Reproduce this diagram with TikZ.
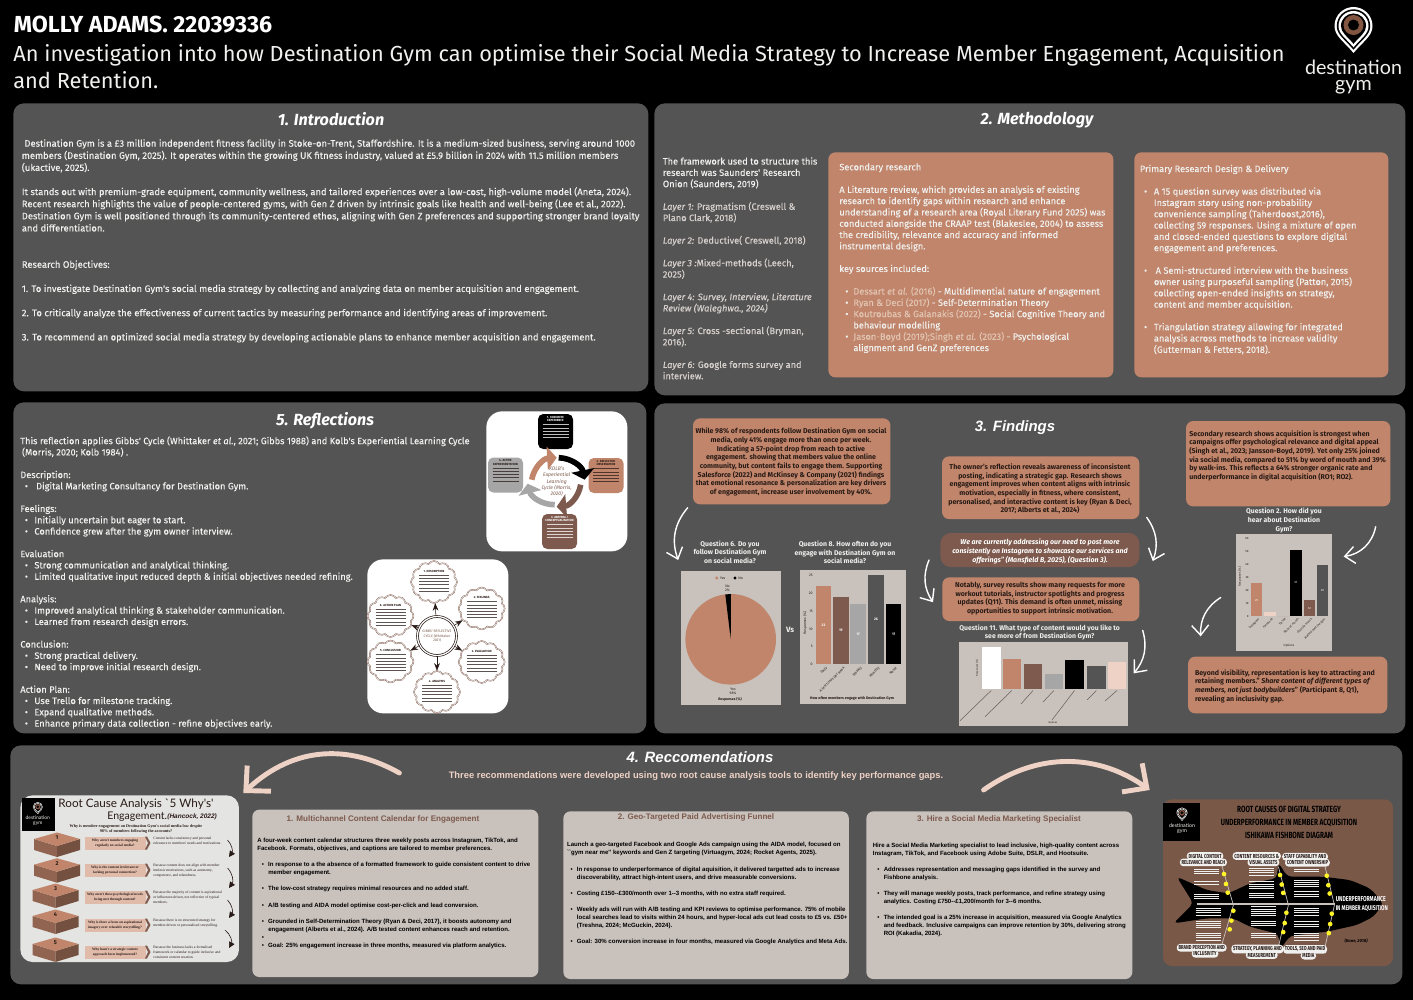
\documentclass[tikz,border=0pt]{standalone}
\usepackage{fontspec}
\setmainfont{Fira Sans}
\newfontfamily\arialfont{Liberation Sans}
\newfontfamily\logofont{Lato}
\newfontfamily\tinyserif{Liberation Serif}
\newfontfamily\midface{Fira Sans}[FakeBold=0.2]
\usetikzlibrary{arrows.meta, positioning, shapes.symbols}

\def\pxu{0.2mm}
\def\bw{5pt}
\newcommand{\bul}{\makebox[\bw][l]{\textbullet}}
\newcommand{\ind}{\makebox[\bw][l]{}}
\newcommand{\pinshape}{(0,27) .. controls (-10,15) and (-19,10) .. (-19,0) .. controls (-19,-11) and (-10,-19) .. (0,-19) .. controls (10,-19) and (19,-11) .. (19,0) .. controls (19,10) and (10,15) .. (0,27) -- cycle}
% thin strokes for print too small to read
\newcommand{\greeklines}[6]{\foreach \k in {1,...,#4} {\draw[line width=0.2pt, #6] ({#1-#3},{#2+(\k-1)*#5}) -- ({#1+#3},{#2+(\k-1)*#5});}}

\tikzset{
    gympin/.pic={
        \foreach \r/\col in {1/white, 0.88/black, 0.79/white, 0.66/black} {
            \fill[\col, scale=\r] \pinshape;
        }
        \fill[logobrown] (0,-1) circle (10);
        \fill[black] (0,-1) circle (5.5);
    },
    panel/.style={fill=panelgrey, rounded corners=6pt, inner sep=0pt, anchor=north west},
    brownbox/.style={fill=boxtan, rounded corners=4pt, inner sep=0pt, anchor=north west},
    recbox/.style={fill=recgrey, rounded corners=4pt, inner sep=0pt, anchor=north west},
    whitebox/.style={fill=white, rounded corners=9pt, inner sep=0pt, anchor=north west},
    chartbox/.style={fill=recgrey, inner sep=0pt, anchor=north west},
    sectitle/.style={text=white, font=\fontsize{9.2}{11}\selectfont\bfseries\itshape},
    arialtitle/.style={text=white, font=\arialfont\fontsize{8.5}{11}\selectfont\bfseries\itshape},
    bodytext/.style={text=bodywhite, align=left, anchor=north west, inner sep=0pt, font=\midface\fontsize{5.35}{6.89}\selectfont},
    methodtext/.style={text=bodywhite, align=left, anchor=north west, inner sep=0pt, font=\midface\fontsize{5.25}{6.43}\selectfont},
    findtext/.style={text=darkink, align=center, inner sep=0pt, font=\fontsize{4}{4.95}\selectfont\bfseries},
    charttitle/.style={text=bodywhite, align=center, inner sep=0pt, font=\fontsize{3.9}{4.95}\selectfont\bfseries},
    rectext/.style={text=black, align=left, anchor=north west, inner sep=0pt, font=\arialfont\fontsize{3.45}{4.6}\selectfont\bfseries},
    rectitle/.style={text=boxbrown, inner sep=0pt, font=\arialfont\fontsize{4.6}{6}\selectfont\bfseries},
    ticklabel/.style={text=darkink, inner sep=0pt, font=\fontsize{2}{2.4}\selectfont},
    valuelabel/.style={text=white, inner sep=0pt, font=\fontsize{2}{2.4}\selectfont\bfseries},
    handarrow/.style={draw=white, line width=0.8pt, line cap=round, -{Straight Barb[length=2mm, width=3.4mm]}},
    bigarrow/.style={draw=palepink, line width=2.8pt, line cap=round, -{Straight Barb[length=3.6mm, width=7mm]}},
    kolbbox/.style={rounded corners=3pt, inner sep=0pt, minimum width=35*\pxu, minimum height=35*\pxu},
    kolbarrow/.style={line width=3.2pt, -{Triangle[length=1.9mm, width=4.6mm]}},
    kolbhead/.style={inner sep=0pt, font=\fontsize{1.7}{2}\selectfont\bfseries, align=center},
    gibbscloud/.style={cloud, cloud puffs=12, cloud puff arc=115, cloud ignores aspect, draw=boxbrown, double=white, double distance=0.25pt, line width=0.25pt, inner sep=0pt, minimum width=46*\pxu, minimum height=42*\pxu},
    whyarrow/.style={draw=darkink, line width=0.35pt, -{Triangle[length=1.2mm, width=1.2mm]}},
    whytext/.style={text=darkink, inner sep=0pt, align=left, anchor=north west, font=\tinyserif\fontsize{2.1}{2.75}\selectfont},
    fishpill/.style={fill=bodywhite, rounded corners=2pt, inner sep=1pt, text=darkink, font=\fontsize{3.3}{3.6}\selectfont\bfseries},
}

\begin{document}
\begin{tikzpicture}[x=0.2mm, y=-0.2mm, >=Stealth]
    % Define local colors
    \definecolor{panelgrey}{RGB}{84, 84, 84} \definecolor{boxtan}{RGB}{192, 133, 106} \definecolor{boxbrown}{RGB}{125, 90, 77}
    \definecolor{recgrey}{RGB}{200, 193, 188} \definecolor{palepink}{RGB}{238, 210, 197} \definecolor{midgrey}{RGB}{166, 166, 166}
    \definecolor{bodywhite}{RGB}{240, 240, 238} \definecolor{darkink}{RGB}{40, 26, 22} \definecolor{refpale}{RGB}{226, 196, 178}
    \definecolor{dimwhite}{RGB}{214, 208, 204} \definecolor{logobrown}{RGB}{130, 85, 65} \definecolor{fishbrown}{RGB}{122, 88, 72}

    \fill[black] (0,0) rectangle (1413,1000);
    \useasboundingbox (0,0) rectangle (1413,1000);

    % HEADER
    \node[anchor=base west, inner sep=0pt, text=white, font=\fontsize{13.2}{15}\selectfont\bfseries] (author) at (13.5,32) {MOLLY ADAMS. 22039336};
    \node[anchor=north west, inner sep=0pt, align=left, text=bodywhite, font=\fontsize{12.4}{15.4}\selectfont] (maintitle) at (13,44) {An investigation into how Destination Gym can optimise their Social Media Strategy to Increase Member Engagement, Acquisition\\and Retention.};
    \pic at (1353.5,26) {gympin};
    \node[inner sep=0pt, text=bodywhite, align=center, font=\logofont\fontsize{11.2}{9}\selectfont] (logotext) at (1353.5,77) {destination\\gym};

    % PANELS
    \foreach \nm/\x/\y/\w/\h in {intro/13/103/635/288, method/654/103/751/292, reflect/13/402/633/331, findings/654/403/751/330, recs/10/745/1392/239} {
        \node[panel, minimum width=\w*\pxu, minimum height=\h*\pxu] (\nm) at (\x,\y) {};
    }
    \node[sectitle] (introtitle) at (331,119) {1. Introduction};
    \node[sectitle] (methodtitle) at (1037,120.5) {2. Methodology};
    \node[sectitle] (reflecttitle) at (325,420.5) {5. Reflections};
    \node[arialtitle] (findingstitle) at (1015,428) {3. Findings};
    \node[arialtitle] (recstitle) at (700,757) {4. Reccomendations};

    % 1. INTRODUCTION
    \node[bodytext] (introtext) at (21.5,139) {\hspace*{1.5pt}Destination Gym is a £3 million independent fitness facility in Stoke-on-Trent, Staffordshire. It is a medium-sized business,  serving around 1000\\
    members (Destination Gym, 2025). It operates within the growing UK fitness industry, valued at £5.9 billion in 2024 with 11.5 million members\\
    (ukactive, 2025).\\[1\baselineskip]
    It stands out with premium-grade equipment, community wellness, and tailored experiences over a low-cost, high-volume model (Aneta, 2024).\\
    Recent research highlights the value of people-centered gyms, with Gen Z driven by intrinsic goals like health and well-being (Lee et al., 2022).\\
    Destination Gym is well positioned through its community-centered ethos, aligning with Gen Z preferences and supporting stronger brand loyalty\\
    and differentiation.\\[2\baselineskip]
    Research Objectives:\\[1\baselineskip]
    1. To investigate Destination Gym's social media strategy by collecting and analyzing data on member acquisition and engagement.\\[1\baselineskip]
    2. To critically analyze the effectiveness of current tactics by measuring performance and identifying areas of improvement.\\[1\baselineskip]
    3. To recommend an optimized social media strategy by developing actionable plans to enhance member acquisition and engagement.};

    % 2. METHODOLOGY
    \foreach \nm/\x/\w in {secondary/828/285, primary/1134/254} {
        \node[brownbox, minimum width=\w*\pxu, minimum height=225*\pxu] (\nm) at (\x,152) {};
    }
    \node[methodtext] (onion) at (662.5,157) {The framework used to structure this\\research was Saunders' Research\\Onion (Saunders, 2019)\\[1\baselineskip]
    \textcolor{dimwhite}{\textit{Layer 1:}  Pragmatism (Creswell \&}\\\textcolor{dimwhite}{Plano Clark, 2018)}\\[1\baselineskip]
    \textcolor{dimwhite}{\textit{Layer 2:}  Deductive( Creswell, 2018)}\\[1\baselineskip]
    \textcolor{dimwhite}{\textit{Layer 3 :}Mixed-methods (Leech,}\\\textcolor{dimwhite}{2025)}\\[1\baselineskip]
    \textcolor{dimwhite}{\textit{Layer 4: Survey, Interview, Literature}}\\\textcolor{dimwhite}{\textit{Review (Waleghwa., 2024)}}\\[1\baselineskip]
    \textcolor{dimwhite}{\textit{Layer 5:} Cross -sectional (Bryman,}\\\textcolor{dimwhite}{2016).}\\[1\baselineskip]
    \textcolor{dimwhite}{\textit{Layer 6:} Google forms survey and}\\\textcolor{dimwhite}{interview.}};
    \def\bw{4.6pt}
    \node[methodtext] (secondarytext) at (839,163) {Secondary research\\[1\baselineskip]
    A Literature review, which provides an analysis of existing\\research to identify gaps within research and enhance\\understanding of a research area (Royal Literary Fund 2025) was\\conducted alongside  the CRAAP test (Blakeslee, 2004) to assess\\the credibility, relevance and accuracy and informed\\instrumental design.\\[1\baselineskip]
    key sources included:\\[1\baselineskip]
    \hspace*{3.4pt}\bul\textcolor{refpale}{Dessart \textit{et al.} (2016)} - Multidimential nature of engagement\\
    \hspace*{3.4pt}\bul\textcolor{refpale}{Ryan \& Deci (2017)} - Self-Determination Theory\\
    \hspace*{3.4pt}\bul\textcolor{refpale}{Koutroubas \& Galanakis (2022)} - Social Cognitive Theory and\\
    \hspace*{3.4pt}\ind behaviour modelling\\
    \hspace*{3.4pt}\bul\textcolor{refpale}{Jason-Boyd (2019);Singh \textit{et al.} (2023)} - Psychological\\
    \hspace*{3.4pt}\ind alignment and GenZ preferences};
    \def\bw{5.6pt}
    \node[methodtext] (primarytext) at (1139.5,164.5) {Primary Research Design \& Delivery\\[1\baselineskip]
    \hspace*{2.4pt}\bul A 15 question survey was distributed via\\
    \hspace*{2.4pt}\ind Instagram story using non-probability\\
    \hspace*{2.4pt}\ind convenience sampling (Taherdoost,2016),\\
    \hspace*{2.4pt}\ind collecting 59 responses. Using a mixture of open\\
    \hspace*{2.4pt}\ind and closed-ended questions to explore digital\\
    \hspace*{2.4pt}\ind engagement and preferences.\\[1\baselineskip]
    \hspace*{2.4pt}\bul\hspace*{1pt}A Semi-structured interview with the business\\
    \hspace*{2.4pt}\ind owner using purposeful sampling (Patton, 2015)\\
    \hspace*{2.4pt}\ind collecting open-ended insights on strategy,\\
    \hspace*{2.4pt}\ind content and member acquisition.\\[1\baselineskip]
    \hspace*{2.4pt}\bul Triangulation strategy allowing for integrated\\
    \hspace*{2.4pt}\ind analysis across methods to increase validity\\
    \hspace*{2.4pt}\ind (Gutterman \& Fetters, 2018).};

    % 5. REFLECTIONS
    \def\bw{5.4pt}
    \node[methodtext] (reflecttext) at (20,436) {This reflection applies Gibbs' Cycle (Whittaker \textit{et al.}, 2021;  Gibbs 1988) and Kolb's Experiential Learning Cycle\\
    \hspace*{1pt}(Morris, 2020; Kolb 1984) .\\[1\baselineskip]
    Description:\\
    \hspace*{2.6pt}\bul\hspace*{1pt}Digital Marketing Consultancy for Destination Gym.\\[1\baselineskip]
    Feelings:\\
    \hspace*{2.6pt}\bul Initially uncertain but eager to start.\\
    \hspace*{2.6pt}\bul Confidence grew after the gym owner interview.\\[1\baselineskip]
    Evaluation\\
    \hspace*{2.6pt}\bul Strong communication and analytical thinking.\\
    \hspace*{2.6pt}\bul Limited qualitative input reduced depth \& initial objectives needed refining.\\[1\baselineskip]
    Analysis:\\
    \hspace*{2.6pt}\bul Improved analytical thinking \& stakeholder communication.\\
    \hspace*{2.6pt}\bul Learned from research design errors.\\[1\baselineskip]
    Conclusion:\\
    \hspace*{2.6pt}\bul Strong practical delivery.\\
    \hspace*{2.6pt}\bul Need to improve initial research design.\\[1\baselineskip]
    Action Plan:\\
    \hspace*{2.6pt}\bul Use Trello for milestone tracking.\\
    \hspace*{2.6pt}\bul Expand qualitative methods.\\
    \hspace*{2.6pt}\bul Enhance primary data collection - refine objectives early.};

    % Kolb cycle
    \node[whitebox, minimum width=141*\pxu, minimum height=140*\pxu] (kolb) at (486,411) {};
    \foreach \nm/\x/\y/\col/\hue/\head in {kolbce/555.5/431.5/black/white/1. CONCRETE\\EXPERIENCE, kolbro/606/475.5/boxtan/darkink/2. REFLECTIVE\\OBSERVATION, kolbac/559.5/531.5/boxbrown/white/3. ABSTRACT\\CONCEPTUALISATION, kolbae/505.5/475/midgrey/darkink/4. ACTIVE\\EXPERIMENTATION} {
        \node[kolbbox, fill=\col] (\nm) at (\x,\y) {};
        \node[kolbhead, text=\hue, anchor=north] at ([yshift=-2*\pxu]\nm.north) {\head};
        \greeklines{\x}{\y-7}{13}{5}{3.2}{\hue, opacity=0.75}
    }
    \node[inner sep=0pt, align=center, text=boxbrown, font=\fontsize{2.9}{3.6}\selectfont\itshape] (kolbtext) at (556.7,481.7) {KOLB's\\Experiential\\Learning\\Cycle (Morris,\\2020)};
    \draw[kolbarrow, boxtan] ([shift={(-25,-2)}]kolbtext.center) to[bend left=38] ([shift={(0,-24)}]kolbtext.center);
    \draw[kolbarrow, black] ([shift={(2,-24)}]kolbtext.center) to[bend left=38] ([shift={(28,-2)}]kolbtext.center);
    \draw[kolbarrow, boxbrown] ([shift={(24,3)}]kolbtext.center) to[bend left=38] ([shift={(0,25)}]kolbtext.center);
    \draw[kolbarrow, midgrey] ([shift={(-2,23)}]kolbtext.center) to[bend left=38] ([shift={(-29,2)}]kolbtext.center);

    % Gibbs cycle
    \node[whitebox, minimum width=141*\pxu, minimum height=154*\pxu] (gibbs) at (367,559) {};
    \node[circle, draw=darkink, line width=0.4pt, inner sep=0pt, double, double distance=0.7pt, minimum size=39*\pxu, align=center, text=boxbrown, font=\fontsize{2}{2.7}\selectfont] (gibbscore) at (437,636) {GIBBS' REFLECTIVE\\CYCLE (Whittaker\\2021)};
    \foreach \nm/\x/\y/\head in {gdesc/434/582/1. DESCRIPTION, gfeel/481.7/608.5/2. FEELINGS, geval/481.7/662/3. EVALUATION, ganal/437/692/4. ANALYSIS, gconc/390.5/661.5/5. CONCLUSION, gplan/390.5/616/6. ACTION PLAN} {
        \node[gibbscloud] (\nm) at (\x,\y) {};
        \node[kolbhead, text=darkink] at (\x,\y-11) {\head};
        \greeklines{\x}{\y-7}{15}{6}{3.2}{darkink, opacity=0.75}
        \draw[->, darkink, line width=0.3pt] (gibbscore) -- (\nm);
    }

    % 3. FINDINGS
    \foreach \nm/\x/\y/\w/\h in {whilebox/692.7/418/197.3/86, ownerbox/941.7/456/197.3/62.7, notablybox/942/577/197/43.7, acquirebox/1185.7/420.7/204.3/85.3, beyondbox/1187.7/656.3/199.3/56.7} {
        \node[brownbox, minimum width=\w*\pxu, minimum height=\h*\pxu] (\nm) at (\x,\y) {};
    }
    \node[fill=boxbrown, rounded corners=6pt, inner sep=0pt, anchor=north west, minimum width=199*\pxu, minimum height=34*\pxu] (quotebox) at (940,532.7) {};
    \node[findtext] (whiletext) at (791,462) {While 98\% of respondents follow Destination Gym on social\\media, only 41\% engage more than once per week.\\Indicating a 57-point drop from reach to active\\engagement. showing that members value the online\\community, but content fails to engage them. Supporting\\Salesforce (2022) and McKinsey \& Company (2021) findings\\that emotional resonance \& personalization are key drivers\\of engagement, increase user involvement by 40\%.};
    \node[findtext] (ownertext) at (1040,489) {The owner's reflection reveals awareness of inconsistent\\posting, indicating a strategic gap. Research shows\\engagement improves when content aligns with intrinsic\\motivation, especially in fitness, where consistent,\\personalised, and interactive content is key (Ryan \& Deci,\\2017; Alberts et al., 2024)};
    \node[findtext, text=white, font=\fontsize{4}{4.95}\selectfont\bfseries\itshape] (quotetext) at (1040,551.5) {We are currently addressing our need to post more\\consistently on Instagram to showcase our services and\\offerings" (Mansfield B, 2025), (Question 3).};
    \node[findtext] (notablytext) at (1040,598.5) {Notably, survey results show many requests for more\\workout tutorials, instructor spotlights and progress\\updates (Q11). This demand is often unmet, missing\\opportunities to support intrinsic motivation.};
    \node[findtext, align=left, anchor=north west] (acquiretext) at (1189,430) {Secondary research shows acquisition is strongest when\\campaigns offer psychological relevance and digital appeal\\(Singh et al., 2023; Jansson-Boyd, 2019). Yet only 25\% joined\\via social media, compared to 51\% by word of mouth and 39\%\\by walk-ins. This reflects a 64\% stronger organic rate and\\underperformance in digital acquisition (RO1; RO2).};
    \node[findtext, align=left, anchor=north west] (beyondtext) at (1194.7,669) {Beyond visibility, representation is key to attracting and\\retaining members." \textit{Share content of different types of}\\\textit{members, not just bodybuilders}" (Participant 8, Q1),\\revealing an inclusivity gap.};

    % Chart titles
    \node[charttitle] (q6title) at (730,552) {Question 6. Do you\\follow Destination Gym\\on social media?};
    \node[charttitle] (q8title) at (845,552.5) {Question 8. How often do you\\engage with Destination Gym on\\social media?};
    \node[charttitle] (q11title) at (1039.7,632.5) {Question 11. What type of content would you like to\\see more of from Destination Gym?};
    \node[charttitle] (q2title) at (1284,520.5) {Question 2. How did you\\hear about Destination\\Gym?};
    \node[charttitle, font=\fontsize{4.4}{5}\selectfont\bfseries] (versus) at (790,630) {Vs};

    % Question 6 pie
    \node[chartbox, minimum width=99.7*\pxu, minimum height=134.7*\pxu] (q6chart) at (681,570.3) {};
    \node[circle, fill=boxtan, inner sep=0pt, minimum size=90.6*\pxu] (pie) at (730.7,639.3) {};
    \fill[black] (pie.center) -- ([shift={(-5.4,-44.8)}]pie.center) -- ([shift={(0.3,-45.3)}]pie.center) -- cycle;
    \foreach \x/\col/\lab in {716.7/boxtan/Yes, 735/black/No} {
        \fill[\col] (\x,578) circle (1.6);
        \node[ticklabel, anchor=west] at (\x+3,578) {\lab};
    }
    \node[ticklabel, align=center] at (727.5,588.5) {No\\2\%};
    \node[ticklabel, align=center] at (733,691) {Yes\\98\%};
    \node[ticklabel, font=\fontsize{2}{2.4}\selectfont\bfseries] at (730,699) {Responses (\%)};

    % Question 8 bars
    \node[chartbox, minimum width=106.4*\pxu, minimum height=133.3*\pxu] (q8chart) at (799.3,570) {};
    \foreach \tick/\y in {25/575.3, 20/593.3, 15/611.3, 10/629, 5/646.3, 0/664.3} {
        \node[ticklabel, anchor=east] at (813,\y) {\tick};
    }
    \foreach \xa/\xb/\top/\col/\val/\lab in {815.7/831.3/586/boxtan/22/Daily, 833/848.7/596.7/boxbrown/19/A few times per week, 850.3/866/603.7/midgrey/17/Weekly, 868/884/575.3/panelgrey/26/Monthly, 886/901.3/603.7/black/17/Never} {
        \fill[\col] (\xa,\top) rectangle (\xb,664.3);
        \node[valuelabel] at ({(\xa+\xb)/2},{(\top+664.3)/2}) {\val};
        \node[ticklabel, anchor=north east, rotate=45] at ({(\xa+\xb)/2+2},666) {\lab};
    }
    \node[ticklabel, rotate=90] at (805,623) {Responses (\%)};
    \node[ticklabel, font=\fontsize{2.1}{2.4}\selectfont\bfseries] at (852,698) {How often members engage with Destination Gym};

    % Question 11 bars
    \node[chartbox, minimum width=169.3*\pxu, minimum height=84*\pxu] (q11chart) at (958.7,642) {};
    \foreach \xa/\xb/\top/\col/\xe/\ye in {981.7/1000.7/646.7/white/960/720.7, 1002.7/1021/659/boxtan/985/716.7, 1024/1042/664/boxbrown/1021/704, 1044.7/1063/674/midgrey/1043/702, 1065/1084/660/black/1052/720, 1087/1105.7/666/panelgrey/1087/700, 1108/1126/661.7/palepink/1105/701} {
        \fill[\col] (\xa,\top) rectangle (\xb,688.7);
        \draw[darkink!70, line width=0.3pt] ({(\xa+\xb)/2},690.5) -- (\xe,\ye);
    }
    \node[ticklabel, rotate=90, font=\fontsize{1.4}{2}\selectfont] at (977,668) {Responses (\%)};
    \node[ticklabel, font=\fontsize{1.4}{2}\selectfont] at (1053,723) {Options};

    % Question 2 bars
    \node[chartbox, minimum width=96.3*\pxu, minimum height=117.7*\pxu] (q2chart) at (1235.7,533.3) {};
    \foreach \tick/\y in {60/538, 50/551, 40/564, 30/577, 20/590, 10/603, 0/616} {
        \node[ticklabel, anchor=east, font=\fontsize{1.7}{2}\selectfont] at (1249,\y) {\tick};
    }
    \foreach \xa/\xb/\top/\col/\val/\lab in {1250.7/1262.3/583.3/boxtan/25/Instagram, 1264/1276/612/palepink/3/Facebook, 1277/1289/616/boxtan/0/TikTok, 1290/1302/550/black/51/Word of mouth, 1303.7/1315/600.3/boxbrown/12/Outside search, 1316.7/1328/565.3/panelgrey/39/Walked past the gym} {
        \fill[\col] (\xa,\top) rectangle (\xb,616);
        \node[ticklabel, anchor=north east, rotate=45, font=\fontsize{1.7}{2}\selectfont] at ({(\xa+\xb)/2+1.5},617.5) {\lab};
    }
    \foreach \x/\y/\val in {1256.5/600/25, 1296/583/51, 1309.4/608/12, 1322.4/591/39} {
        \node[valuelabel, font=\fontsize{1.7}{2}\selectfont] at (\x,\y) {\val};
    }
    \node[ticklabel, rotate=90, font=\fontsize{1.7}{2}\selectfont] at (1240,576.7) {Responses (\%)};
    \node[ticklabel, font=\fontsize{1.7}{2}\selectfont] at (1289,645.7) {Options};

    % Main logic arrows
    \draw[handarrow] ([shift={(-5,3)}]whilebox.south west) to[bend right=30] ([shift={(-15,8)}]q6title.west);
    \draw[handarrow] ([shift={(-11,10)}]quotebox.west) to[bend right=28] ([shift={(-9,3)}]notablybox.west);
    \draw[handarrow] ([shift={(7,-2)}]ownerbox.south east) to[bend left=28] ([shift={(13,11)}]quotebox.east);
    \draw[handarrow] ([shift={(3,9)}]notablybox.south east) to[bend left=28] ([shift={(5,-11)}]q11chart.east);
    \draw[handarrow] ([shift={(-15,20)}]acquirebox.south east) to[bend left=35] ([shift={(11,-36)}]q2chart.east);
    \draw[handarrow] ([shift={(-15,5)}]q2chart.west) to[bend right=30] ([shift={(13,-20)}]beyondbox.north west);

    % 4. RECOMMENDATIONS
    \node[inner sep=0pt, text=palepink, font=\arialfont\fontsize{5.33}{6}\selectfont\bfseries] (recsub) at (696,776) {Three recommendations were developed using two root cause analysis tools to identify key performance gaps.};

    \node[recbox, minimum width=286*\pxu, minimum height=167.4*\pxu] (recone) at (252,809.3) {};
    \node[recbox, minimum width=285.5*\pxu, minimum height=167.7*\pxu] (rectwo) at (563,811) {};
    \node[recbox, minimum width=266*\pxu, minimum height=167.7*\pxu] (recthree) at (866,811) {};
    \node[rectitle] at (383,819) {1. Multichannel Content Calendar for Engagement};
    \node[rectitle] at (696,817) {2. Geo-Targeted Paid Advertising Funnel};
    \node[rectitle] at (999,819) {3. Hire a Social Media Marketing Specialist};

    \def\bw{3.6pt}
    \node[rectext] (reconetext) at (257,837.7) {A four-week content calendar structures three weekly posts across Instagram, TikTok, and\\Facebook. Formats, objectives, and captions are tailored to member preferences.\\[1\baselineskip]
    \hspace*{2.6pt}\bul In response to a the absence of a formatted framework to guide consistent content to drive\\
    \hspace*{2.6pt}\ind member engagement.\\[1\baselineskip]
    \hspace*{2.6pt}\bul The low-cost strategy requires minimal resources and no added staff.\\[1\baselineskip]
    \hspace*{2.6pt}\bul A/B testing and AIDA model optimise cost-per-click and lead conversion.\\[1\baselineskip]
    \hspace*{2.6pt}\bul Grounded in Self-Determination Theory (Ryan \& Deci, 2017), it boosts autonomy and\\
    \hspace*{2.6pt}\ind engagement (Alberts et al., 2024). A/B tested content enhances reach and retention.\\
    \hspace*{2.6pt}\bul\\
    \hspace*{2.6pt}\bul Goal: 25\% engagement increase in three months, measured via platform analytics.};
    \node[rectext] (rectwotext) at (566.7,842) {Launch a geo-targeted Facebook and Google Ads campaign using the AIDA model, focused on\\``gym near me'' keywords and Gen Z targeting (Virtuagym, 2024; Rocket Agents, 2025).\\[1\baselineskip]
    \hspace*{2pt}\bul In response to underperformance of digital aquisition, it delivered targetted ads to increase\\
    \hspace*{2pt}\ind discoverability, attract high-intent users, and drive measurable conversions.\\[1\baselineskip]
    \hspace*{2pt}\bul Costing £150--£300/month over 1--3 months, with no extra staff required.\\[1\baselineskip]
    \hspace*{2pt}\bul Weekly ads will run with A/B testing and KPI reviews to optimise performance. 75\% of mobile\\
    \hspace*{2pt}\ind local searches lead to visits within 24 hours, and hyper-local ads cut lead costs to £5 vs. £50+\\
    \hspace*{2pt}\ind (Treshna, 2024; McGuckin, 2024).\\[1\baselineskip]
    \hspace*{2pt}\bul Goal: 30\% conversion increase in four months, measured via Google Analytics and Meta Ads.};
    \node[rectext] (recthreetext) at (872.5,842.3) {Hire a Social Media Marketing specialist to lead inclusive, high-quality content across\\Instagram, TikTok, and Facebook using Adobe Suite, DSLR, and Hootsuite.\\[1\baselineskip]
    \hspace*{2.6pt}\bul Addresses representation and messaging gaps identified in the survey and\\
    \hspace*{2.6pt}\ind Fishbone analysis.\\[1\baselineskip]
    \hspace*{2.6pt}\bul They will manage weekly posts, track performance, and refine strategy using\\
    \hspace*{2.6pt}\ind analytics. Costing £750--£1,200/month for 3--6 months.\\[1\baselineskip]
    \hspace*{2.6pt}\bul The intended goal is a 25\% increase in acquisition, measured via Google Analytics\\
    \hspace*{2.6pt}\ind and feedback. Inclusive campaigns can improve retention by 30\%, delivering strong\\
    \hspace*{2.6pt}\ind ROI (Kakadia, 2024).};

    % 5 Whys image
    \node[fill=bodywhite!95!black, rounded corners=7pt, inner sep=0pt, anchor=north west, minimum width=218.6*\pxu, minimum height=166.7*\pxu] (whys) at (20,795) {};
    \node[fill=black, inner sep=0pt, anchor=north west, minimum width=33*\pxu, minimum height=33.4*\pxu] (whyslogo) at (21.4,797.3) {};
    \pic[scale=0.26] at (37.8,807) {gympin};
    \node[inner sep=0pt, text=bodywhite, align=center, font=\logofont\fontsize{2.8}{2.9}\selectfont] at (37.8,820.5) {destination\\gym};
    \node[inner sep=0pt, text=darkink, font=\logofont\fontsize{6.65}{8}\selectfont] (whystitle) at (136,804) {Root Cause Analysis `5 Why's'};
    \node[inner sep=0pt, anchor=west, text=darkink, font=\logofont\fontsize{6}{8}\selectfont] (whysub) at (107,817) {Engagement.};
    \node[inner sep=0pt, anchor=west, text=darkink, font=\arialfont\fontsize{3.7}{4}\selectfont\bfseries\itshape] (whyref) at (167,817) {(Hancock, 2022)};
    \node[inner sep=0pt, align=center, text=darkink, font=\tinyserif\fontsize{2.35}{3}\selectfont\bfseries] (whyask) at (136,829) {Why is member engagement on Destination Gym's social media low despite\\98\% of members following the accounts?};
    \foreach \i/\xc/\yc/\ya/\q/\a in {
        1/57/839/843/{Why aren't members engaging\\regularly on social media?}/{Content lacks consistency and personal\\relevance to members' needs and motivations.},
        2/57/864.7/870/{Why is the content irrelevant or\\lacking personal connection?}/{Because content does not align with member\\intrinsic motivations, such as autonomy,\\competence, and relatedness.},
        3/55.5/890/897/{Why aren't these psychological needs\\being met through content?}/{Because the majority of content is aspirational\\or influencer-driven, not reflective of typical\\members.},
        4/55.5/916/925/{Why is there a focus on aspirational\\imagery over relatable storytelling?}/{Because there is no structured strategy for\\member-driven or personalised storytelling.},
        5/55.5/944/952/{Why hasn't a strategic content\\approach been implemented?}/{Because the business lacks a formalised\\framework or calendar to guide inclusive and\\consistent content creation.}} {
        \fill[boxtan!75!black] (\xc-23,\yc) -- (\xc,\yc+7) -- (\xc,\yc+18) -- (\xc-23,\yc+11) -- cycle;
        \fill[boxtan!60!black] (\xc+23,\yc) -- (\xc,\yc+7) -- (\xc,\yc+18) -- (\xc+23,\yc+11) -- cycle;
        \fill[boxtan] (\xc-23,\yc) -- (\xc,\yc-6.5) -- (\xc+23,\yc) -- (\xc,\yc+7) -- cycle;
        \node[inner sep=0pt, text=darkink, font=\fontsize{3.2}{4}\selectfont\bfseries] at (\xc,\yc-1.5) {\i};
        \fill[palepink!70!boxtan] (85,\ya-6.5) rectangle (146,\ya+6.5);
        \fill[boxbrown] (145,\ya-6.5) -- (147,\ya-6.5) -- (150.5,\ya) -- (147,\ya+6.5) -- (145,\ya+6.5) -- (148,\ya) -- cycle;
        \node[inner sep=0pt, align=center, text=darkink, font=\tinyserif\fontsize{2}{2.7}\selectfont\bfseries] (whyq\i) at (115,\ya) {\q};
        \node[whytext] (whya\i) at (153,\ya-6) {\a};
    }
    \draw[whyarrow] (227.5,840) to[bend left=40] (229,857);
    \draw[whyarrow] (227.5,868) to[bend left=40] (229,888);
    \draw[whyarrow] (227.5,900) to[bend left=40] (229,918);
    \draw[whyarrow] (225,930) to[bend left=40] (229,948);

    % Fishbone image
    \node[fill=fishbrown, rounded corners=5pt, inner sep=0pt, anchor=north west, minimum width=230*\pxu, minimum height=166.7*\pxu] (fishbone) at (1162.7,799) {};
    \node[fill=black, inner sep=0pt, anchor=north west, minimum width=37*\pxu, minimum height=37.7*\pxu] (fishlogo) at (1163,803) {};
    \pic[scale=0.29] at (1182,813) {gympin};
    \node[inner sep=0pt, text=bodywhite, align=center, font=\logofont\fontsize{3}{3.3}\selectfont] at (1182,828.5) {destination\\gym};
    \node[inner sep=0pt, align=center, text=black, font=\fontsize{5.1}{7.5}\selectfont\bfseries] (fishtitle) at (1289,822.5) {\scalebox{0.72}[1]{ROOT CAUSES OF DIGITAL STRATEGY}\\\scalebox{0.72}[1]{UNDERPERFORMANCE IN MEMBER ACQUISITION}\\\scalebox{0.72}[1]{ISHIKAWA FISHBONE DIAGRAM}};
    \begin{scope}[shift={(1150,790)}, x=0.0667mm, y=-0.0667mm]
        \fill[black, rounded corners=2.5pt] (700,340) -- (660,295) -- (600,270) -- (520,260) -- (412,260) -- (385,218) -- (380,265) -- (300,280) -- (235,310) -- (170,300) -- (80,260) -- (130,340) -- (70,400) -- (170,385) -- (250,385) -- (300,410) -- (385,432) -- (390,478) -- (420,437) -- (530,425) -- (620,405) -- (670,380) -- cycle;
        \draw[recgrey, line width=1pt] (140,342) -- (555,342);
        \foreach \xa/\ya/\xb/\yb/\xc/\yc in {
            215/225/250/345/222/252, 385/230/415/345/390/255, 525/230/553/345/530/257,
            250/345/215/465/250/362, 415/345/385/470/409/368, 553/345/525/470/545/371} {
            \draw[recgrey, line width=0.4pt] (\xa,\ya) -- (\xb,\yb);
            \foreach \t in {0,0.4,0.75} {
                \fill[yellow!85!white] ({\xc+\t*(\xb-\xa)*0.42},{\yc+\t*(\yb-\ya)*0.62}) circle (7);
            }
        }
        \foreach \cx/\cy/\n in {170/238/3, 170/275/2, 170/312/3, 335/235/4, 335/275/4, 335/310/3, 470/237/2, 470/270/4, 470/305/3, 175/355/4, 175/393/4, 175/430/4, 340/350/5, 340/393/3, 340/430/3, 470/355/4, 470/395/3, 470/430/4} {
            \greeklines{\cx}{\cy}{38}{\n}{6.5}{bodywhite, line width=0.4pt}
        }
        \foreach \x/\y/\lab in {165/198/DIGITAL CONTENT, 160/217/RELEVANCE AND REACH, 320/198/CONTENT RESOURCES \&, 340/217/VISUAL ASSETS, 465/200/STAFF CAPABILITY AND, 472/218/CONTENT OWNERSHIP, 155/473/BRAND PERCEPTION AND, 165/491/INCLUSIVITY, 322/477/{STRATEGY, PLANNING AND}, 335/495/MEASUREMENT, 465/478/{TOOLS, SEO AND PAID}, 475/497/MEDIA} {
            \node[fishpill] at (\x,\y) {\scalebox{0.72}[1]{\lab}};
        }
        \node[anchor=west, inner sep=0pt, text=white, font=\fontsize{4.05}{5}\selectfont\bfseries] (fishhead) at (556,328) {\scalebox{0.72}[1]{UNDERPERFORMANCE}};
        \node[anchor=west, inner sep=0pt, text=white, font=\fontsize{3.9}{5}\selectfont\bfseries] (fishheadb) at (556,357) {\scalebox{0.72}[1]{IN MEMBER AQUISITION}};
        \node[inner sep=0pt, text=black, font=\fontsize{2.4}{3}\selectfont\bfseries\itshape] (fishref) at (618,452) {(Kane, 2018)};
    \end{scope}

    % Big arrows to the two root cause images
    \draw[bigarrow] ([shift={(-49,-3)}]recsub.west) .. controls (350,745) and (295,745) .. ([shift={(4,-2)}]whys.north east);
    \draw[bigarrow] ([shift={(40,14)}]recsub.east) .. controls (1040,750) and (1100,755) .. ([shift={(-13,-9)}]fishbone.north west);
\end{tikzpicture}
\end{document}
